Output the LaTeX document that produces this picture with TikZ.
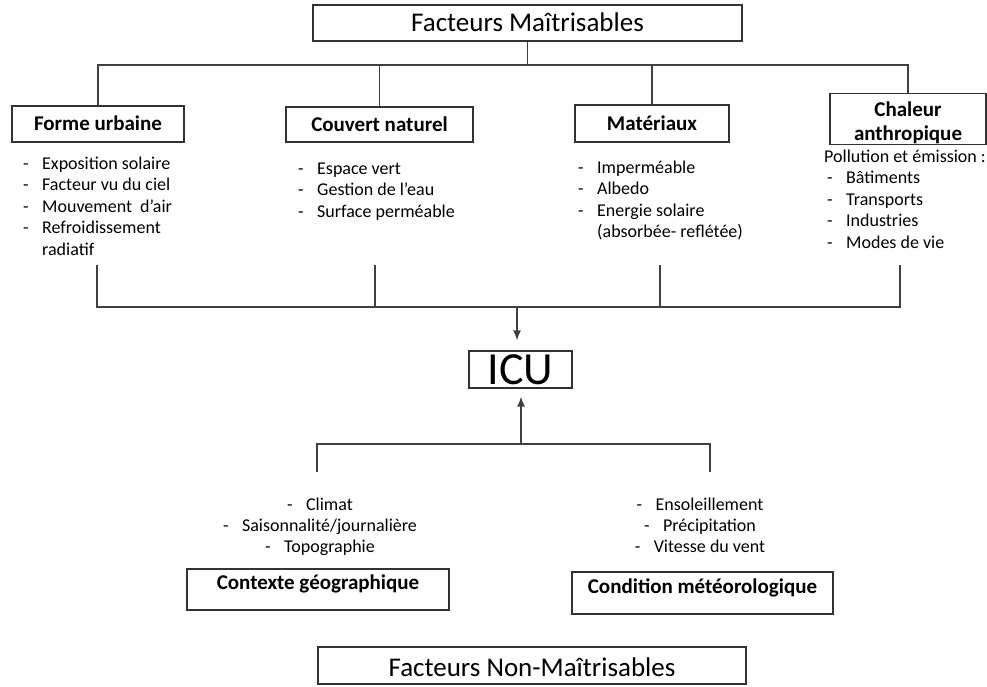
\documentclass[tikz,border=0pt]{standalone}
\usepackage{fontspec}
\setmainfont{Carlito}
\usetikzlibrary{calc,arrows.meta}
\newcommand{\itm}[1]{\strut\makebox[19pt][l]{-}#1}
\begin{document}
\begin{tikzpicture}[>={Latex[length=10pt,width=8pt]},x=1pt,y=-1pt,
  conn/.style={draw=black!75,line width=1.3pt},
  tbox/.style={draw=black!80,line width=1.3pt,inner sep=0,font=\fontsize{27}{32}\selectfont,text height=17.4pt,text depth=0pt},
  head/.style={draw=black!80,line width=1.3pt,inner sep=0,font=\fontsize{21}{24}\selectfont\bfseries},
  hbox/.style={head,text height=13.5pt,text depth=0pt},
  lst/.style={inner sep=0,align=left,font=\fontsize{18}{21.5}\selectfont}]
\useasboundingbox (0,0) rectangle (987,687);
% facteurs maitrisables
\node[tbox,minimum width=429,minimum height=36] (fm) at (527.5,23) {Facteurs Maîtrisables};
\node[hbox,minimum width=172,minimum height=36] (fu) at (98,124) {Forme urbaine};
\node[hbox,minimum width=187,minimum height=35] (cn) at (379.5,124.5) {Couvert naturel};
\node[hbox,minimum width=154,minimum height=37] (mat) at (652,123.5) {Matériaux};
\node[head,align=center,minimum width=156,minimum height=46] (cha) at (908,119) {\rule{0pt}{23pt}Chaleur\\anthropique};
\foreach \n in {fu,cn,mat,cha}
  \draw[conn] (fm.south) -- (fm.south |- 0,65) -| (\n.north);
% listes
\node[lst,anchor=north west] (fu-l) at (23,154) {\itm{Exposition solaire}\\ \itm{Facteur vu du ciel}\\ \itm{Mouvement\ \ d’air}\\ \itm{Refroidissement}\\ \strut\hspace{19pt}radiatif};
\node[lst,anchor=north west] (cn-l) at (298,159) {\itm{Espace vert}\\ \itm{Gestion de l’eau}\\ \itm{Surface perméable}};
\node[lst,anchor=north west] (mat-l) at (578,158) {\itm{Imperméable}\\ \itm{Albedo}\\ \itm{Energie solaire}\\ \strut\hspace{19pt}(absorbée- reflétée)};
\node[lst,anchor=north west] (cha-l) at (824,147) {\strut Pollution et émission :\\ \hspace*{3pt}\itm{Bâtiments}\\ \hspace*{3pt}\itm{Transports}\\ \hspace*{3pt}\itm{Industries}\\ \hspace*{3pt}\itm{Modes de vie}};
% ICU
\node[draw=black!80,line width=1.3pt,inner sep=0,minimum width=103,minimum height=37,font=\fontsize{46}{50}\selectfont,text height=29.6pt,text depth=0pt] (icu) at (520.5,369.5) {ICU};
\coordinate (s1) at (97,265);
\coordinate (s2) at (375,265);
\coordinate (s3) at (660,265);
\coordinate (s4) at (900,265);
\coordinate (j1) at (517,307);
\draw[conn] (s1) |- (s4 |- j1) -- (s4);
\draw[conn] (s2) -- (s2 |- j1);
\draw[conn] (s3) -- (s3 |- j1);
\draw[conn,->] (j1) -- ($(j1 |- icu.north)+(0,-10)$);
% facteurs non maitrisables
\coordinate (j2) at (521,444);
\coordinate (g1) at (317,472);
\coordinate (g2) at (710,472);
\draw[conn] (g1) |- (g2 |- j2) -- (g2);
\draw[conn,->] (j2) -- ($(j2 |- icu.south)+(0,8)$);
\node[lst,align=center,anchor=north,font=\fontsize{18}{21}\selectfont] (cg-l) at (320,495.3) {\itm{Climat}\\ \itm{Saisonnalité/journalière}\\ \itm{Topographie}};
\node[lst,align=center,anchor=north,font=\fontsize{18}{21}\selectfont] (cm-l) at (700,495.3) {\itm{Ensoleillement}\\ \itm{Précipitation}\\ \itm{Vitesse du vent}};
\node[hbox,text depth=12.6pt,minimum width=262,minimum height=41] (cg) at (318,589.5) {Contexte géographique};
\node[hbox,text depth=12.6pt,minimum width=261,minimum height=42] (cm) at (702.5,593) {Condition météorologique};
\node[tbox,text height=22.4pt,minimum width=428,minimum height=37] (fnm) at (532,665.5) {Facteurs Non-Maîtrisables};
\end{tikzpicture}
\end{document}
